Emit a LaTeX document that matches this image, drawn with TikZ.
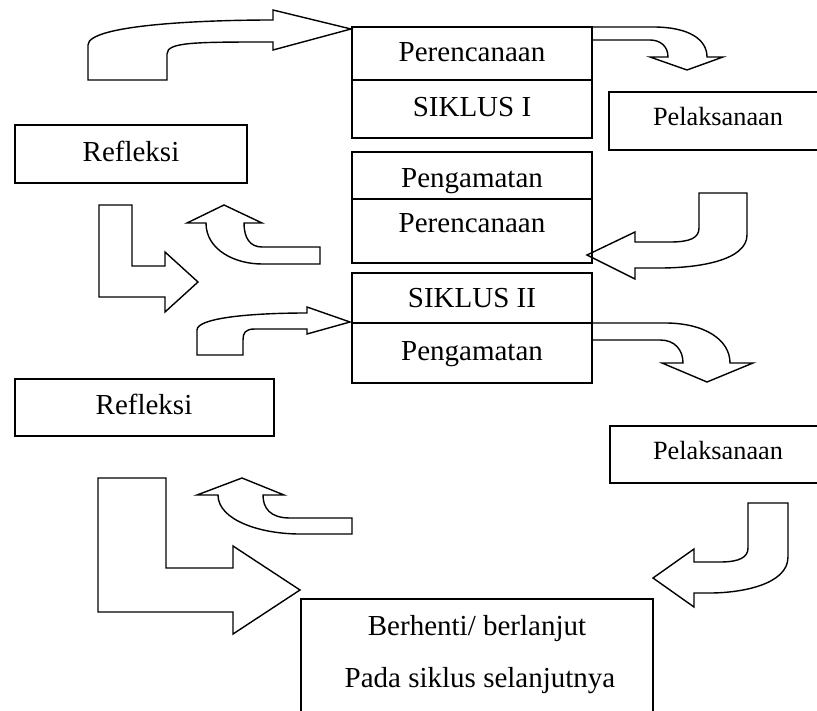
\documentclass[tikz,border=0pt]{standalone}
\usepackage{tikz}
\usepackage{fontspec}
\setmainfont{Liberation Serif}
\newcommand{\kotak}[2]{\draw (#1) rectangle (#2);}
\newcommand{\garis}[2]{\draw (#1) -- (#2);}

\begin{document}
\begin{tikzpicture}[x=1pt,y=-1pt,line width=1.4pt,line join=miter,
  every node/.style={anchor=base,inner sep=0pt,font=\fontsize{29}{33}\selectfont},
  kecil/.style={font=\fontsize{26.3}{30}\selectfont}]
  \clip (0,0) rectangle (817,711);
  % kotak
  \kotak{352,27}{592,138}
  \garis{352,80}{592,80}
  \kotak{352,152}{592,263}
  \garis{352,199}{592,199}
  \kotak{352,273}{592,383}
  \garis{352,323}{592,323}
  \kotak{609,92}{830,150}
  \kotak{15,125}{247,183}
  \kotak{15,379}{274,436}
  \kotak{610,426}{830,483}
  \kotak{301,599}{653,730}
  % teks
  \node (per1) at (472,62) {Perencanaan};
  \node (sik1) at (472,117) {SIKLUS I};
  \node[kecil] (pel1) at (718,126) {Pelaksanaan};
  \node (ref1) at (131,162) {Refleksi};
  \node (pen1) at (472,188) {Pengamatan};
  \node (per2) at (472,233) {Perencanaan};
  \node (sik2) at (472,308) {SIKLUS II};
  \node (pen2) at (472,361) {Pengamatan};
  \node (ref2) at (144,414) {Refleksi};
  \node[kecil] (pel2) at (718,459) {Pelaksanaan};
  \node (berh) at (477,635) {Berhenti/ berlanjut};
  \node (pada) at (480,687) {Pada siklus selanjutnya};
  % panah blok
  \draw (88,80) -- (88,45) .. controls (88,25) and (200,20) .. (273,20) -- (273,10) -- (351,29)
    -- (273,50) -- (273,42) .. controls (195,42) and (167,42) .. (167,54) -- (167,80) -- cycle;
  \draw (592,27) -- (653,27) .. controls (690,27) and (707,40) .. (707,57) -- (723,57) -- (687,70)
    -- (650,57) -- (668,57) .. controls (668,46) and (660,40) .. (650,40) -- (592,40);
  \draw (99,205) -- (132,205) -- (132,266) -- (165,266) -- (165,252) -- (198,282) -- (165,312)
    -- (165,297) -- (99,297) -- cycle;
  \draw (320,247) -- (262,247) .. controls (250,247) and (244,238) .. (244,223) -- (262,223)
    -- (224,205) -- (187,223) -- (206,223) .. controls (206,250) and (235,264) .. (262,264) -- (320,264) -- cycle;
  \draw (699,193) -- (747,193) -- (747,235) .. controls (747,260) and (700,268) .. (660,268) -- (635,268)
    -- (635,279) -- (587,255) -- (635,232) -- (635,242) -- (670,242) .. controls (690,242) and (699,238) .. (699,228) -- cycle;
  \draw (197,355) -- (197,330) .. controls (197,318) and (250,313) .. (307,313) -- (307,307) -- (350,322)
    -- (307,334) -- (307,329) -- (255,329) .. controls (245,329) and (243,333) .. (243,340) -- (243,355) -- cycle;
  \draw (592,323) -- (665,323) .. controls (705,323) and (730,340) .. (730,363) -- (753,363) -- (707,382)
    -- (662,363) -- (683,363) .. controls (683,350) and (675,340) .. (660,340) -- (592,340);
  \draw (98,478) -- (166,478) -- (166,568) -- (233,568) -- (233,546) -- (300,590) -- (233,634)
    -- (233,612) -- (98,612) -- cycle;
  \draw (352,518) -- (290,518) .. controls (270,518) and (263,508) .. (263,495) -- (284,495)
    -- (242,478) -- (197,495) -- (218,495) .. controls (218,520) and (260,534) .. (300,534) -- (352,534) -- cycle;
  \draw (748,503) -- (788,503) -- (788,557) .. controls (788,585) and (740,593) .. (710,593) -- (694,593)
    -- (694,607) -- (653,578) -- (694,549) -- (694,562) -- (720,562) .. controls (740,562) and (748,557) .. (748,548) -- cycle;
\end{tikzpicture}
\end{document}
